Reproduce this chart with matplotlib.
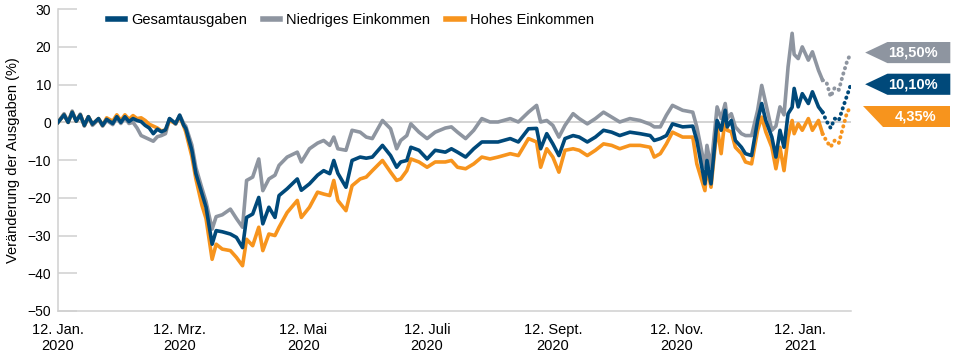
import numpy as np
import matplotlib
matplotlib.use("Agg")
import matplotlib.pyplot as plt
from matplotlib.patches import Polygon

plt.rcParams["font.family"] = ["Liberation Sans", "DejaVu Sans"]

# days since 12 Jan 2020
days = [0, 3, 5, 7, 9, 11, 13, 15, 17, 20, 22, 24, 27, 29, 31, 33, 35, 37, 39, 41,
        43, 45, 47, 49, 51, 53, 55, 58, 60, 62, 63, 66, 68, 71, 73, 76, 78, 81, 85, 88,
        91, 93, 96, 99, 101, 104, 107, 109, 113, 118, 120, 124, 128, 131, 134, 136, 138, 142, 145, 149,
        152, 155, 160, 164, 167, 169, 172, 174, 178, 182, 186, 191, 194, 197, 201, 205, 209, 213, 217, 223,
        227, 232, 236, 238, 241, 244, 247, 250, 254, 257, 261, 265, 269, 273, 277, 282, 287, 292, 294, 297,
        300, 303, 308, 313, 315, 319, 320, 322, 325, 327, 329, 330, 332, 334, 337, 339, 342, 345, 347, 349,
        352, 354, 356, 358, 360, 362, 363, 365, 367, 370, 372, 375, 377]

gesamt = [0, 2.0, 0, 2.7, 0.3, 2.0, -0.8, 1.5, -0.5, 1.0, -0.8, 0.8, -0.3, 1.5, 0, 1.5, 0.2, 1.0, 0.5, 0.2,
          -0.8, -1.5, -3.0, -1.8, -2.5, -2.0, 1.0, -0.3, 1.9, -0.8, -1.6, -7.4, -13.6, -19.0, -22.5, -32.3, -28.7, -29.0, -29.6, -30.5,
          -33.2, -25.2, -24.3, -19.9, -26.9, -22.5, -25.2, -19.4, -17.6, -15.0, -18.0, -16.3, -14.0, -12.8, -13.6, -10.1, -13.5, -17.2, -10.1, -9.2,
          -9.5, -9.2, -6.1, -8.8, -11.9, -10.5, -10.1, -6.6, -7.4, -9.7, -7.4, -7.9, -7.0, -7.9, -9.2, -7.0, -5.2, -5.2, -5.2, -4.3,
          -5.2, -1.7, -1.6, -7.0, -3.0, -5.7, -8.8, -4.3, -3.5, -3.9, -5.2, -3.9, -2.1, -2.6, -3.5, -2.6, -3.0, -3.5, -4.8, -4.3,
          -3.5, -0.4, -1.2, -1.0, -4.8, -16.3, -10.1, -16.3, 0.5, -2.1, 3.2, -1.2, 0.5, -4.8, -6.6, -8.3, -8.8, 0.5, 5.0, 0.5,
          -3.9, -9.2, -2.1, -6.6, 2.3, 4.0, 9.0, 4.1, 7.6, 5.0, 8.1, 4.1, 2.7]

niedrig = [0, 2.3, 0, 3.0, 0.3, 2.2, -1.0, 1.5, -0.8, 0.8, -1.0, 0.5, -0.6, 1.2, -0.3, 1.2, -0.3, 0.0, -1.5, -3.5,
           -4.0, -4.5, -5.0, -3.8, -3.5, -3.0, 1.0, -0.5, 1.9, -0.3, -1.0, -6.0, -12.0, -17.5, -21.0, -28.3, -25.0, -24.5, -23.0, -25.5,
           -27.8, -15.4, -14.5, -9.7, -18.1, -15.0, -14.0, -11.4, -9.2, -7.9, -10.5, -7.0, -5.5, -4.8, -6.1, -3.9, -7.0, -7.4, -2.1, -2.6,
           -3.9, -4.3, 0.5, -1.7, -7.0, -4.8, -3.5, -0.4, -2.6, -4.3, -2.6, -1.5, -1.2, -2.6, -4.3, -2.1, 1.0, 0.1, 0.1, 1.0,
           0.1, 2.7, 4.5, 0.1, 0.5, -0.8, -3.9, -0.8, 2.3, 1.0, -0.4, 1.0, 2.7, 1.4, 0.1, 1.0, 0.5, -0.5, -1.2, -1.2,
           1.9, 4.5, 3.2, 2.7, -1.2, -11.9, -6.1, -11.9, 4.1, 1.0, 5.0, 1.0, 2.3, -1.2, -3.0, -3.5, -3.5, 3.2, 9.8, 5.0,
           -2.1, -1.0, 4.1, 2.0, 14.7, 23.6, 18.0, 16.9, 20.0, 16.5, 18.7, 13.8, 11.2]

hohes = [0, 2.0, 0, 2.7, 0.3, 2.0, -0.8, 1.5, -0.5, 1.0, -0.8, 1.2, 0.3, 2.0, 0.5, 2.0, 0.8, 1.8, 1.0, 1.2,
         0.5, -0.5, -1.0, -1.5, -2.3, -2.0, 0.5, -0.3, 1.5, -1.0, -2.5, -9.0, -15.0, -22.0, -25.5, -36.3, -32.3, -33.6, -34.0, -35.8,
         -38.0, -31.0, -32.7, -27.8, -34.0, -29.6, -30.0, -27.8, -23.9, -20.7, -25.2, -22.5, -18.5, -19.0, -19.4, -15.4, -20.7, -23.4, -16.8, -15.0,
         -14.5, -12.8, -10.1, -13.2, -15.4, -15.0, -12.8, -9.7, -10.5, -11.9, -10.5, -10.5, -10.1, -11.9, -12.3, -11.0, -9.2, -9.7, -9.2, -8.3,
         -8.8, -4.3, -5.2, -11.9, -7.0, -9.2, -13.2, -7.4, -7.0, -7.4, -8.8, -7.4, -5.7, -6.1, -7.0, -6.1, -6.1, -6.6, -9.2, -8.3,
         -5.7, -2.6, -3.9, -3.9, -11.0, -18.1, -11.9, -17.2, -1.2, -8.3, 1.4, -2.1, -2.5, -6.6, -8.3, -10.5, -11.0, -2.1, 1.4, -2.5,
         -6.6, -12.3, -6.6, -12.8, -3.9, 0.5, -3.0, -0.4, -2.1, 1.0, -2.1, 0.5, -3.0]

# dotted continuation
days_dot = [377, 379, 381, 383, 385, 387, 389, 391]
gesamt_dot = [2.7, 0.3, -1.5, 1.0, 0.5, 3.8, 7.0, 10.1]
niedrig_dot = [11.2, 10.5, 6.8, 9.2, 8.6, 12.5, 16.0, 18.5]
hohes_dot = [-3.0, -5.0, -6.5, -4.8, -5.5, -1.5, 2.5, 4.35]

end_labels = ["18,50%", "10,10%", "4,35%"]
end_values = [18.5, 10.1, 4.35]

tick_days = [0, 60, 121, 182, 244, 305, 366]
tick_labels = ["12. Jan.\n2020", "12. Mrz.\n2020", "12. Mai\n2020", "12. Juli\n2020",
               "12. Sept.\n2020", "12. Nov.\n2020", "12. Jan.\n2021"]

c_blue = "#00497A"
c_gray = "#8E95A0"
c_orange = "#F7941D"
c_axis = "#D0D0D0"

fig = plt.figure(figsize=(9.6, 3.63), dpi=100)
ax = fig.add_axes([0.0604, 0.1433, 0.826, 0.8314])

lw = 2.6
dot_style = dict(linestyle=(0, (0.1, 1.35)), dash_capstyle="round", linewidth=2.8)
l_n, = ax.plot(days, niedrig, color=c_gray, lw=lw, zorder=3, label="Niedriges Einkommen")
l_h, = ax.plot(days, hohes, color=c_orange, lw=lw, zorder=4, label="Hohes Einkommen")
l_g, = ax.plot(days, gesamt, color=c_blue, lw=lw, zorder=5, label="Gesamtausgaben")
ax.plot(days_dot, niedrig_dot, color=c_gray, zorder=3, **dot_style)
ax.plot(days_dot, hohes_dot, color=c_orange, zorder=4, **dot_style)
ax.plot(days_dot, gesamt_dot, color=c_blue, zorder=5, **dot_style)

ax.axhline(0, color=c_axis, lw=1.3, zorder=1)

ax.set_xlim(0, 391)
ax.set_ylim(-50, 30)
ax.set_yticks(np.arange(-50, 31, 10))
ax.set_xticks(tick_days)
ax.set_xticklabels(tick_labels, fontsize=10.5, linespacing=1.15)
ax.tick_params(axis="x", length=0, pad=9)
ax.tick_params(axis="y", direction="in", length=14, width=1.1, color=c_axis,
               labelsize=10, pad=5)
for s in ["top", "right"]:
    ax.spines[s].set_visible(False)
ax.spines["left"].set_color(c_axis)
ax.spines["bottom"].set_color(c_axis)
ax.spines["left"].set_linewidth(1.1)
ax.spines["bottom"].set_linewidth(1.1)
ax.set_ylabel("Veränderung der Ausgaben (%)", fontsize=10.5)
ax.yaxis.set_label_coords(-0.048, 0.5)

ax.legend(handles=[l_g, l_n, l_h], loc="upper left", bbox_to_anchor=(0.046, 1.03),
          ncol=3, frameon=False, fontsize=10.5, handlelength=1.2, handletextpad=0.4,
          columnspacing=1.1)
for h in ax.get_legend().legend_handles:
    h.set_linewidth(4)

# value tags on the right
x_tip, x_box, x_end = 398, 409, 440
hh = 2.8
for val, txt, col in zip(end_values[:2], end_labels[:2], [c_gray, c_blue]):
    poly = Polygon([(x_tip, val), (x_box, val + hh), (x_end, val + hh),
                    (x_end, val - hh), (x_box, val - hh)], closed=True,
                   facecolor=col, edgecolor="none", clip_on=False)
    ax.add_patch(poly)
    ax.text(421.5, val, txt, color="white", fontsize=10.5, fontweight="bold",
            ha="center", va="center", clip_on=False)
val = end_values[2]
poly = Polygon([(x_tip - 1, val), (x_end, val), (x_end, val - 2 * hh),
                (x_tip + 9, val - 2 * hh)], closed=True,
               facecolor=c_orange, edgecolor="none", clip_on=False)
ax.add_patch(poly)
ax.text(423, val - hh, end_labels[2], color="white", fontsize=10.5, fontweight="bold",
        ha="center", va="center", clip_on=False)

fig.savefig("out.png", dpi=100)
